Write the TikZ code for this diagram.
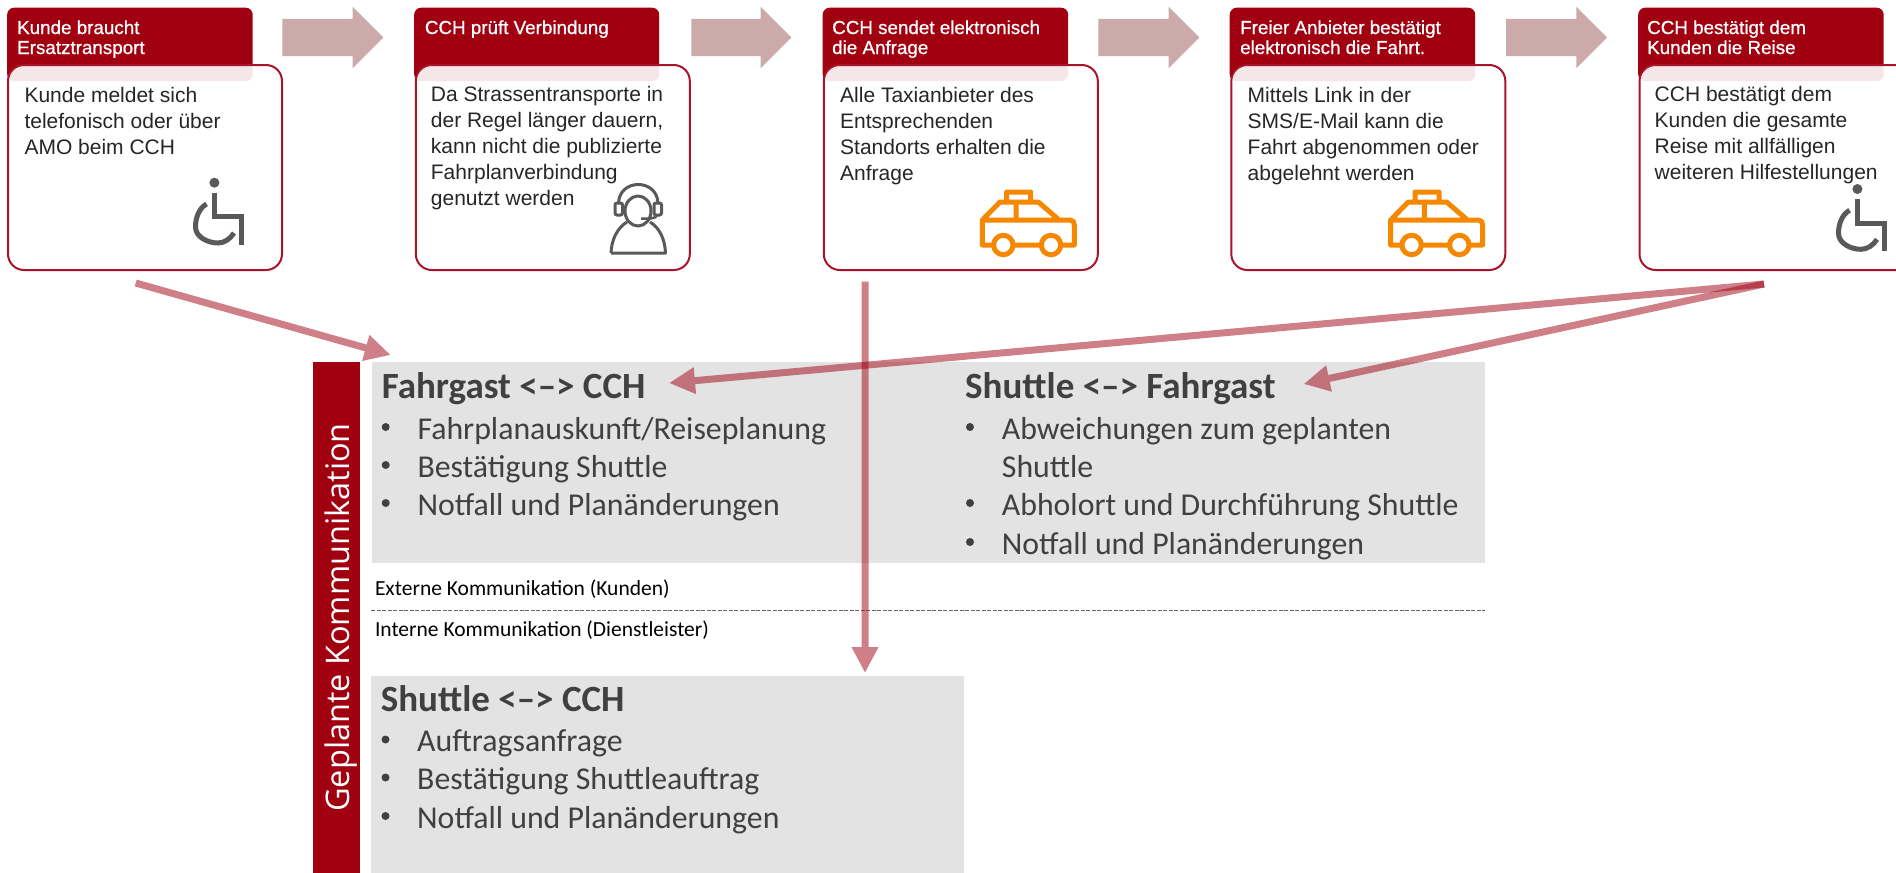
\documentclass[tikz,border=0pt]{standalone}
\usepackage{fontspec}
\setmainfont{Liberation Sans}
\newfontfamily\hdfont[FakeBold=0.8]{Liberation Sans}
\newfontfamily\calfont{Carlito}
\newfontfamily\vertfont{Open Sans}
\usetikzlibrary{arrows.meta,shapes.arrows}
\definecolor{dbred}{HTML}{A00010}
\definecolor{cardline}{HTML}{A8142A}
\definecolor{boxgrey}{HTML}{E3E3E3}
\definecolor{blockc}{HTML}{CDAAAA}
\definecolor{icongrey}{HTML}{595959}
\definecolor{taxi}{HTML}{F58800}
\definecolor{txtgrey}{HTML}{404040}
\tikzset{
  x=1pt,y=-1pt,
  headbox/.style={draw=none,fill=dbred,rounded corners=7pt,rectangle,inner sep=0pt,anchor=north west,minimum height=73.5pt},
  cardbox/.style={draw=cardline,line width=2pt,fill=white,fill opacity=0.9,rounded corners=16pt,rectangle,inner sep=0pt,anchor=north west,minimum width=274pt,minimum height=205pt},
  headtxt/.style={inner sep=0pt,anchor=base west,align=left,text=white,font=\hdfont\fontsize{18.8}{20}\selectfont},
  cardtxt/.style={inner sep=0pt,anchor=base west,align=left,text=black!85,font=\fontsize{21}{25.8}\selectfont},
  blockarrow/.style={single arrow,fill=blockc,draw=none,inner xsep=0pt,inner ysep=18.5pt,single arrow head extend=12pt,minimum width=61pt,single arrow tip angle=90},
  flow/.style={draw=dbred,line width=7pt,-{Triangle[length=26pt,width=25pt]}},
  flowgroup/.style={transparency group,opacity=0.5},
  greybox/.style={fill=boxgrey,draw=none,rectangle,inner sep=0pt,anchor=north west},
  boxtitle/.style={inner sep=0pt,anchor=base west,text=txtgrey,font=\calfont\bfseries\fontsize{37}{38}\selectfont},
  boxitem/.style={inner sep=0pt,anchor=base west,text=txtgrey,font=\calfont\fontsize{31.8}{38}\selectfont},
  bulletdot/.style={circle,fill=txtgrey,draw=none,inner sep=0pt,minimum size=8pt},
  smalltxt/.style={inner sep=0pt,anchor=base west,text=black,font=\calfont\fontsize{21.5}{22}\selectfont},
  wheelchair/.pic={
    \fill[icongrey] (0,0) circle (5);
    \draw[icongrey,line width=5pt,line join=miter] (0,10) -- (0,34) -- (27,34) -- (27,62);
    \draw[icongrey,line width=5pt] (-7.8,21.3) .. controls (-15,25) and (-19,35) .. (-18.9,44.3)
      .. controls (-19,54) and (-7,60.3) .. (3.6,60.3) .. controls (10,60.3) and (16,56) .. (19.6,50.3);
  },
  taxicar/.pic={
    \draw[taxi,line width=5pt,line join=round]
      (26.7,13) -- (26.7,3) -- (50.7,3) -- (50.7,13)
      (3.3,30) -- (20,13) -- (58.3,13) -- (78,30)
      (36,13) -- (36,30)
      (12.7,56) -- (2.3,56) -- (2.3,31) -- (90,31) .. controls (93,31) and (94.3,33) .. (94.3,36) -- (94.3,56) -- (81.7,56)
      (34,56) -- (60.3,56);
    \draw[taxi,line width=5pt] (23.3,56) circle (9.7) (71,56) circle (9.7);
  },
}
\begin{document}
\begin{tikzpicture}
\path[use as bounding box,clip] (0,0) rectangle (1896,873);
\fill[white] (0,0) rectangle (1896,873);
% headers and cards
\node[headbox,minimum width=245.5pt] (h1) at (7,7.5) {};
\node[headbox,minimum width=245pt] (h2) at (414,7.5) {};
\node[headbox,minimum width=245.5pt] (h3) at (822.5,7.5) {};
\node[headbox,minimum width=245.5pt] (h4) at (1229.5,7.5) {};
\node[headbox,minimum width=245.5pt] (h5) at (1638,7.5) {};
\node[cardbox] (c1) at (7,64) {};
\node[cardbox] (c2) at (414.8,64) {};
\node[cardbox] (c3) at (822.8,64) {};
\node[cardbox] (c4) at (1230.3,64) {};
\node[cardbox] (c5) at (1638.5,64) {};
% block arrows
\node[blockarrow,minimum height=101pt] (b1) at (323.5,37.5) {};
\node[blockarrow,minimum height=100pt] (b2) at (732,37.5) {};
\node[blockarrow,minimum height=101pt] (b3) at (1139.5,37.5) {};
\node[blockarrow,minimum height=101pt] (b4) at (1547.3,37.5) {};
% header text
\node[headtxt] (ht1) at (17,54) {Kunde braucht\\Ersatztransport};
\node[headtxt] (ht2) at (424.7,34) {CCH prüft Verbindung};
\node[headtxt] (ht3) at (832,54) {CCH sendet elektronisch\\die Anfrage};
\node[headtxt] (ht4) at (1240,54) {Freier Anbieter bestätigt\\elektronisch die Fahrt.};
\node[headtxt] (ht5) at (1647,54) {CCH bestätigt dem\\Kunden die Reise};
% card text
\node[cardtxt] (t1) at (24.3,154) {Kunde meldet sich\\telefonisch oder über\\AMO beim CCH};
\node[cardtxt] (t2) at (430.7,205) {Da Strassentransporte in\\der Regel länger dauern,\\kann nicht die publizierte\\Fahrplanverbindung\\genutzt werden};
\node[cardtxt] (t3) at (840,180) {Alle Taxianbieter des\\Entsprechenden\\Standorts erhalten die\\Anfrage};
\node[cardtxt] (t4) at (1247.5,180) {Mittels Link in der\\SMS/E-Mail kann die\\Fahrt abgenommen oder\\abgelehnt werden};
\node[cardtxt] (t5) at (1654.5,179) {CCH bestätigt dem\\Kunden die gesamte\\Reise mit allfälligen\\weiteren Hilfestellungen};
% icons
\pic at (214.4,182.7) {wheelchair};
\pic at (1857.4,189) {wheelchair};
\pic at (980,189) {taxicar};
\pic at (1388.3,189) {taxicar};
\draw[icongrey,line width=3pt,line join=round]
  (611,253) -- (665.5,253) .. controls (665,240) and (660,228) .. (650,222)
  (611,253) .. controls (611.5,240) and (617,228) .. (627,222);
\draw[icongrey,line width=3pt] (638,211) ellipse (13 and 15);
\draw[icongrey,line width=3pt] (618.5,204) .. controls (618.5,178) and (658,178) .. (658,204);
\draw[icongrey,line width=3pt,rounded corners=2pt] (615,203) rectangle (622.5,215) (654,203) rectangle (661.5,215);
\draw[icongrey,line width=2.5pt] (657,215) .. controls (656,219) and (650,218.5) .. (641,218.5);
% grey boxes, bar
\node[greybox,minimum width=1113pt,minimum height=200.7pt] (g1) at (372,362) {};
\node[greybox,minimum width=593.6pt,minimum height=197pt] (g2) at (370.4,676) {};
\node[fill=dbred,draw=none,rectangle,inner sep=0pt,anchor=north west,minimum width=47.2pt,minimum height=511pt] (bar) at (312.8,362) {};
\node[inner sep=0pt,anchor=base west,rotate=90,text=white,font=\vertfont\fontsize{32.5}{34}\selectfont] (vt) at (349.4,812) {Geplante Kommunikation};
% text in grey boxes
\node[boxtitle] (ti1) at (381.6,398) {Fahrgast <–> CCH};
\node[boxitem] (i11) at (417.3,439) {Fahrplanauskunft/Reiseplanung};
\node[boxitem] (i12) at (417.3,477.5) {Bestätigung Shuttle};
\node[boxitem] (i13) at (417.3,515.5) {Notfall und Planänderungen};
\node[bulletdot] (d11) at (385.7,427) {};
\node[bulletdot] (d12) at (385.7,465) {};
\node[bulletdot] (d13) at (385.7,503) {};
\node[boxtitle] (ti2) at (965,398) {Shuttle <–> Fahrgast};
\node[boxitem] (i21) at (1001.7,439) {Abweichungen zum geplanten};
\node[boxitem] (i22) at (1001.7,477) {Shuttle};
\node[boxitem] (i23) at (1001.7,515.5) {Abholort und Durchführung Shuttle};
\node[boxitem] (i24) at (1001.7,554) {Notfall und Planänderungen};
\node[bulletdot] (d21) at (970,427) {};
\node[bulletdot] (d23) at (970,503) {};
\node[bulletdot] (d24) at (970,542) {};
\node[boxtitle] (ti3) at (380.6,711) {Shuttle <–> CCH};
\node[boxitem] (i31) at (417,751.7) {Auftragsanfrage};
\node[boxitem] (i32) at (417,789.5) {Bestätigung Shuttleauftrag};
\node[boxitem] (i33) at (417,828) {Notfall und Planänderungen};
\node[bulletdot] (d31) at (385.5,739.5) {};
\node[bulletdot] (d32) at (385.5,777.5) {};
\node[bulletdot] (d33) at (385.5,816) {};
\node[smalltxt] (ext) at (374.8,595) {Externe Kommunikation (Kunden)};
\node[smalltxt] (int) at (374.8,636.7) {Interne Kommunikation (Dienstleister)};
\coordinate (dl) at (371,610.7);
\coordinate (dr) at (1485,610.7);
\draw[black!60,line width=1.3pt,dash pattern=on 4pt off 1.5pt] (dl) -- (dr);
% connectors
\coordinate (s1) at (135.7,283);
\coordinate (e1) at (390.8,355);
\coordinate (s5) at (1764,284);
\coordinate (e5a) at (669,383);
\coordinate (e5b) at (1303.6,384);
\coordinate (s3) at (865,281.7);
\coordinate (e3) at (865,673);
\begin{scope}[flowgroup]\draw[flow] (s1) -- (e1);\end{scope}
\begin{scope}[flowgroup]\draw[flow] (s5) -- (e5a);\end{scope}
\begin{scope}[flowgroup]\draw[flow] (s5) -- (e5b);\end{scope}
\begin{scope}[flowgroup]\draw[flow] (s3) -- (e3);\end{scope}
\end{tikzpicture}
\end{document}
